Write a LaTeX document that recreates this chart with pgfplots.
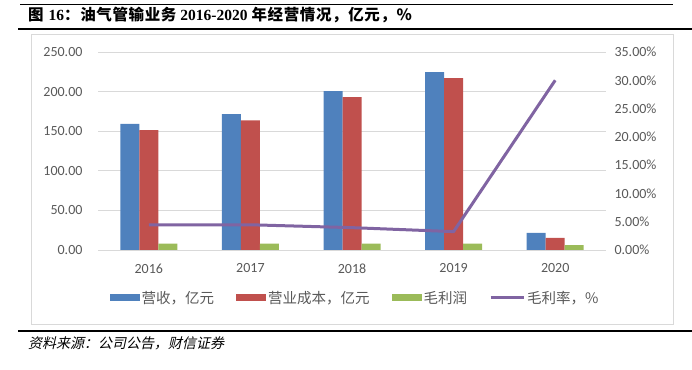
\documentclass[border=0pt]{standalone}
\usepackage{fontspec}
\usepackage{pgfplots}
\pgfplotsset{compat=1.18}
\setmainfont{Carlito}
\newfontfamily\cjk{Noto Sans CJK SC}
\newfontfamily\cjkt[LetterSpace=4]{Noto Sans CJK SC}
\newfontfamily\cjkit[FakeSlant=0.22]{Noto Sans CJK SC}
\newfontfamily\tnr{Liberation Serif}
\definecolor{c1}{HTML}{4F81BD}
\definecolor{c2}{HTML}{C0504D}
\definecolor{c3}{HTML}{9BBB59}
\definecolor{c4}{HTML}{8064A2}
\definecolor{tickgray}{HTML}{595959}
\definecolor{gridgray}{HTML}{D9D9D9}
\begin{document}
\begin{tikzpicture}[x=1pt,y=1pt]
\useasboundingbox (0,0) rectangle (692,369);
\draw[line width=0.8pt] (20,365) -- (673,365);
\node[anchor=west, inner sep=0pt] at (28,354) {\fontsize{15.5}{17}\selectfont\cjkt\bfseries 图\hspace{5pt}{\tnr\bfseries 16}：油气管输业务\hspace{4pt}{\tnr\bfseries 2016-2020}\hspace{4pt}年经营情况，亿元，\%};
\draw[line width=1.2pt] (18,340) -- (692,340);
\draw[gridgray, line width=0.8pt] (31,335) rectangle (673,45);
\draw[line width=1.8pt] (18,38.3) -- (692,38.3);
\node[anchor=west, inner sep=0pt] at (28,26) {\fontsize{14}{16}\selectfont\cjkit 资料来源：公司公告，财信证券};

\begin{axis}[
  at={(98pt,119pt)}, anchor=south west,
  scale only axis, width=508pt, height=198pt,
  xmin=-0.5, xmax=4.5, ymin=0, ymax=250,
  ybar=0pt, bar width=19pt,
  xtick={0,1,2,3,4}, xticklabels={2016,2017,2018,2019,2020},
  ytick={0,50,100,150,200,250},
  axis line style={draw=none},
  xtick style={draw=none}, ytick style={draw=none},
  ymajorgrids, grid style={gridgray, line width=0.8pt},
  tick label style={font=\fontsize{14}{16}\selectfont, text=tickgray},
  xticklabel style={yshift=-6pt},
  yticklabel style={xshift=-12pt},
  yticklabel={\pgfmathprintnumber[fixed,fixed zerofill,precision=2,assume math mode=true]{\tick}},
  legend style={at={(0.506,-0.242)}, anchor=center, legend columns=4, draw=none, fill=none,
    font=\cjk\fontsize{14.5}{16}\selectfont, text=tickgray,
    /tikz/every even column/.append style={column sep=20pt}},
]
\addplot[fill=c1, draw=none, legend image code/.code={\fill[c1] (0pt,-3.5pt) rectangle (30pt,3.5pt);}]
  coordinates {(0,159.2) (1,171.4) (2,200.5) (3,224.5) (4,21.5)};
\addlegendentry{营收，亿元}
\addplot[fill=c2, draw=none, legend image code/.code={\fill[c2] (0pt,-3.5pt) rectangle (30pt,3.5pt);}]
  coordinates {(0,151.2) (1,163.8) (2,192.9) (3,216.9) (4,15.2)};
\addlegendentry{营业成本，亿元}
\addplot[fill=c3, draw=none, legend image code/.code={\fill[c3] (0pt,-3.5pt) rectangle (30pt,3.5pt);}]
  coordinates {(0,8.0) (1,7.9) (2,7.9) (3,7.9) (4,6.3)};
\addlegendentry{毛利润}
\addlegendimage{legend image code/.code={\draw[c4, line width=3pt] (0pt,0pt) -- (33pt,0pt);}}
\addlegendentry{毛利率，\%}
\end{axis}

\begin{axis}[
  at={(98pt,119pt)}, anchor=south west,
  scale only axis, width=508pt, height=198pt,
  xmin=-0.5, xmax=4.5, ymin=0, ymax=35,
  axis y line*=right, hide x axis,
  axis line style={draw=none}, ytick style={draw=none},
  ytick={0,5,10,15,20,25,30,35},
  tick label style={font=\fontsize{14}{16}\selectfont, text=tickgray},
  yticklabel style={xshift=5pt},
  yticklabel={\pgfmathprintnumber[fixed,fixed zerofill,precision=2,assume math mode=true]{\tick}\%},
]
\addplot[c4, line width=3pt, mark=none, line join=round]
  coordinates {(0,4.42) (1,4.46) (2,3.95) (3,3.25) (4,30.0)};
\end{axis}
\end{tikzpicture}
\end{document}
